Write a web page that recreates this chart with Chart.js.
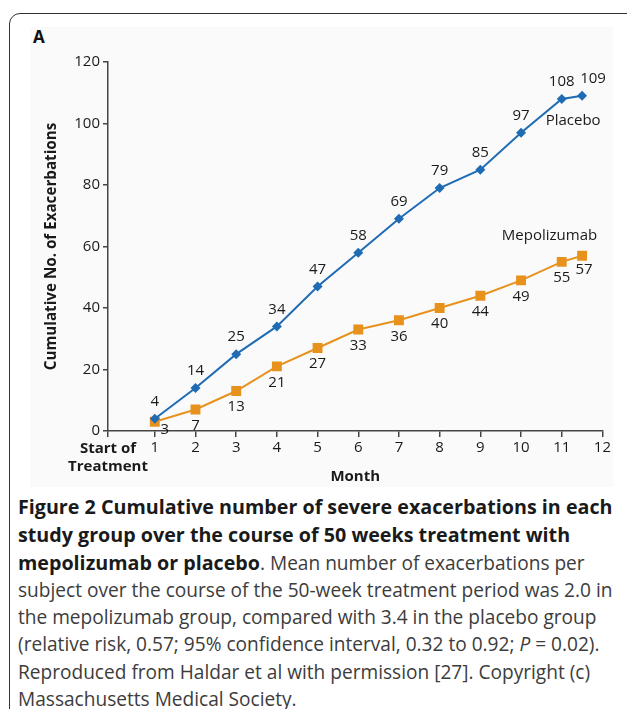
<!DOCTYPE html>
<html>
<head>
<meta charset="utf-8">
<script src="https://cdn.jsdelivr.net/npm/chart.js@4.4.1/dist/chart.umd.min.js"></script>
<style>
  html, body { margin: 0; padding: 0; background: #fff; }
  body { width: 627px; height: 709px; position: relative; overflow: hidden; font-family: "Open Sans", sans-serif; }
  .frame { position: absolute; left: 9px; top: 13px; width: 640px; height: 760px; border: 1.5px solid #333; border-radius: 11px; box-sizing: border-box; }
  .panel { position: absolute; left: 30px; top: 27px; width: 583px; height: 460px; background: #fafafa; }
  .panel-letter { position: absolute; left: 33px; top: 25px; font: bold 17px "Open Sans", sans-serif; color: #111; }
  #chart { position: absolute; left: 30px; top: 27px; }
  .caption { position: absolute; left: 18px; top: 493px; font-size: 19.1px; line-height: 27.1px; color: #3c3c3c; white-space: nowrap; }
  .caption b { color: #1a1a1a; font-weight: 700; font-size: 19.7px; }
</style>
</head>
<body>
<div class="frame"></div>
<div class="panel"></div>
<div class="panel-letter">A</div>
<canvas id="chart" width="583" height="460"></canvas>
<div class="caption">
  <b>Figure 2 Cumulative number of severe exacerbations in each</b><br>
  <b>study group over the course of 50 weeks treatment with</b><br>
  <b>mepolizumab or placebo</b>. Mean number of exacerbations per<br>
  subject over the course of the 50-week treatment period was 2.0 in<br>
  the mepolizumab group, compared with 3.4 in the placebo group<br>
  (relative risk, 0.57; 95% confidence interval, 0.32 to 0.92; <i>P</i> = 0.02).<br>
  Reproduced from Haldar et al with permission [27]. Copyright (c)<br>
  Massachusetts Medical Society.
</div>
<script>
// cumulative severe exacerbations by month
const months = [1, 2, 3, 4, 5, 6, 7, 8, 9, 10, 11, 11.5];
const placebo = [4, 14, 25, 34, 47, 58, 69, 79, 85, 97, 108, 109];
const mepolizumab = [3, 7, 13, 21, 27, 33, 36, 40, 44, 49, 55, 57];
const monthTicks = [1, 2, 3, 4, 5, 6, 7, 8, 9, 10, 11, 12];
const startLabel = ['Start of', 'Treatment'];

const BLUE = '#1f6cb4';
const ORANGE = '#e8921e';
const AXIS = '#444';
const FONT = '"Open Sans", sans-serif';
const X_MIN = -0.15;

const toPoints = (vals) => vals.map((v, i) => ({ x: months[i], y: v }));

// value labels next to each marker, plus the series names
const valueLabels = {
    id: 'valueLabels',
    afterDatasetsDraw(chart) {
        const ctx = chart.ctx;
        const xs = chart.scales.x, ys = chart.scales.y;
        ctx.save();
        ctx.font = '15px ' + FONT;
        ctx.fillStyle = '#1a1a1a';
        ctx.textAlign = 'center';
        ctx.textBaseline = 'middle';

        chart.getDatasetMeta(0).data.forEach((pt, i) => {
            let dx = 0;
            if (i === placebo.length - 1) dx = 11;
            ctx.fillText(String(placebo[i]), pt.x + dx, pt.y - 17);
        });
        chart.getDatasetMeta(1).data.forEach((pt, i) => {
            let dx = 0, dy = 16;
            if (i === 0) { dx = 10; dy = 8; }
            if (i === mepolizumab.length - 1) { dx = 2; dy = 14; }
            ctx.fillText(String(mepolizumab[i]), pt.x + dx, pt.y + dy);
        });

        ctx.fillText('Placebo', xs.getPixelForValue(11.28), ys.getPixelForValue(101));
        ctx.fillText('Mepolizumab', xs.getPixelForValue(10.7), ys.getPixelForValue(63.5));
        ctx.restore();
    }
};

new Chart(document.getElementById('chart'), {
    type: 'line',
    data: {
        datasets: [
            {
                label: 'Placebo',
                data: toPoints(placebo),
                borderColor: BLUE,
                backgroundColor: BLUE,
                borderWidth: 2,
                pointStyle: 'rectRot',
                pointRadius: 5,
                pointBorderWidth: 0,
                tension: 0
            },
            {
                label: 'Mepolizumab',
                data: toPoints(mepolizumab),
                borderColor: ORANGE,
                backgroundColor: ORANGE,
                borderWidth: 2,
                pointStyle: 'rect',
                pointRadius: 7,
                pointBorderWidth: 0,
                tension: 0
            }
        ]
    },
    options: {
        responsive: false,
        devicePixelRatio: 1,
        animation: false,
        layout: { padding: { top: 35, right: 8, bottom: 0, left: 0 } },
        plugins: {
            legend: { display: false },
            tooltip: { enabled: false }
        },
        scales: {
            x: {
                type: 'linear',
                min: X_MIN,
                max: 12,
                afterBuildTicks: (scale) => {
                    scale.ticks = [X_MIN].concat(monthTicks).map(v => ({ value: v }));
                },
                afterFit: (scale) => { scale.height = 56; },
                grid: { drawOnChartArea: false, tickLength: 6, color: AXIS, lineWidth: 1.5 },
                border: { display: true, color: AXIS, width: 1.5 },
                ticks: {
                    autoSkip: false,
                    maxRotation: 0,
                    padding: 2,
                    color: '#1a1a1a',
                    font: (c) => c.index === 0
                        ? { family: FONT, size: 15, weight: 'bold', lineHeight: 1.25 }
                        : { family: FONT, size: 15 },
                    callback: (value, index) => index === 0 ? startLabel : value
                },
                title: {
                    display: true,
                    text: 'Month',
                    color: '#1a1a1a',
                    font: { family: FONT, size: 15, weight: 'bold' },
                    padding: { top: 0, bottom: 1 }
                }
            },
            y: {
                min: 0,
                max: 120,
                afterFit: (scale) => { scale.width = 78; },
                grid: { drawOnChartArea: false, tickLength: 5, color: AXIS, lineWidth: 1.5 },
                border: { display: true, color: AXIS, width: 1.5 },
                ticks: {
                    stepSize: 20,
                    padding: 3,
                    color: '#1a1a1a',
                    font: { family: FONT, size: 15 }
                },
                title: {
                    display: true,
                    text: 'Cumulative No. of Exacerbations',
                    color: '#1a1a1a',
                    font: { family: FONT, size: 15.2, weight: 'bold' },
                    padding: { top: 13, bottom: 0 }
                }
            }
        }
    },
    plugins: [valueLabels]
});
</script>
</body>
</html>
